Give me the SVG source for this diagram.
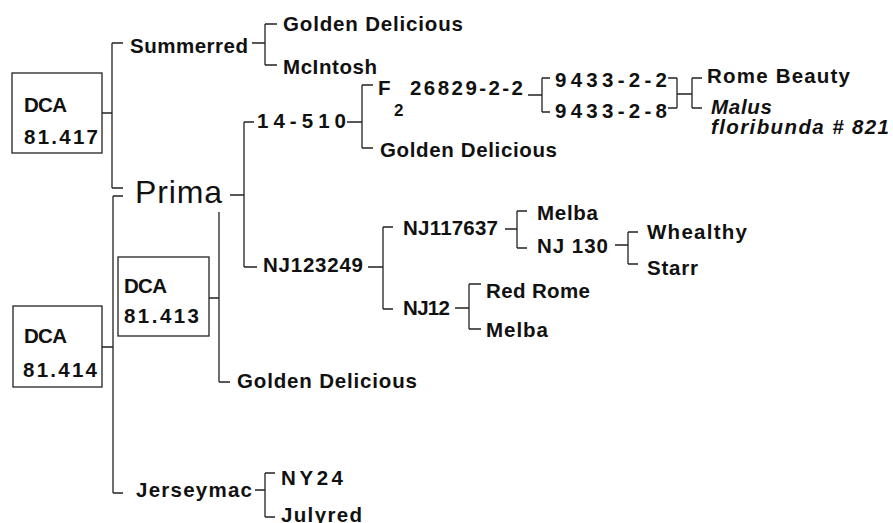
<svg xmlns="http://www.w3.org/2000/svg" width="893" height="523" viewBox="0 0 893 523">
<style>
text{font-family:"Liberation Sans",Arial,Helvetica,sans-serif;font-weight:bold;font-size:20.5px;fill:#111}
.big{font-weight:normal;font-size:32px}
.it{font-style:italic}
.sub{font-size:17px}
.box{fill:none;stroke:#222;stroke-width:1.3}
.c path{fill:none;stroke:#222;stroke-width:1.3}
</style>
<rect width="893" height="523" fill="#fff"/>
<g class="c" id="connectors">
<path d="M102 113H112M112 43V188M112 43H123M112 188H123"/>
<path d="M102 347H113M113 196V493M113 196H123M113 493H123"/>
<path d="M209 298H219M219 212V382M219 382H230"/>
<path d="M252 43H265M265 24V65M265 24H277M265 65H277"/>
<path d="M230 195H244M244 122V267M244 122H254M244 267H257"/>
<path d="M347 122H362M362 85V148M362 85H373M362 148H373"/>
<path d="M528 95H542M542 78V112M542 78H550M542 112H550"/>
<path d="M668 78H677M668 108H677M677 78V108M677 94H692M692 78V108M692 78H702M692 108H702"/>
<path d="M368 267H383M383 227V309M383 227H393M383 309H393"/>
<path d="M505 229H517M517 211V248M517 211H527M517 248H527"/>
<path d="M615 245H628M628 232V264M628 232H638M628 264H638"/>
<path d="M455 308H469M469 284V329M469 284H481M469 329H481"/>
<path d="M255 490H265M265 473V517M265 473H275M265 517H275"/>
</g>
<g id="dca417"><rect class="box" x="12" y="73" width="90" height="80"/><text x="24" y="112" textLength="43" lengthAdjust="spacing">DCA</text><text x="24" y="144" textLength="74" lengthAdjust="spacing">81.417</text></g>
<g id="dca414"><rect class="box" x="13" y="306" width="89" height="81"/><text x="24" y="343" textLength="43" lengthAdjust="spacing">DCA</text><text x="23" y="377" textLength="74" lengthAdjust="spacing">81.414</text></g>
<g id="dca413"><rect class="box" x="118" y="257" width="91" height="79"/><text x="124" y="293" textLength="43" lengthAdjust="spacing">DCA</text><text x="124" y="323" textLength="75" lengthAdjust="spacing">81.413</text></g>
<g id="summerred"><text x="130" y="53" textLength="118" lengthAdjust="spacing">Summerred</text></g>
<g id="golden1"><text x="283" y="31" textLength="180" lengthAdjust="spacing">Golden Delicious</text></g>
<g id="mcintosh"><text x="283" y="74" textLength="94" lengthAdjust="spacing">McIntosh</text></g>
<g id="prima"><text class="big" x="135" y="203" textLength="87" lengthAdjust="spacing">Prima</text></g>
<g id="n14510"><text x="257" y="128" textLength="89" lengthAdjust="spacing">14-510</text></g>
<g id="f2"><text x="378" y="95">F</text><text class="sub" x="394" y="116">2</text><text x="410" y="95" textLength="113" lengthAdjust="spacing">26829-2-2</text></g>
<g id="golden2"><text x="380" y="157" textLength="177" lengthAdjust="spacing">Golden Delicious</text></g>
<g id="n943322"><text x="555" y="87" textLength="112" lengthAdjust="spacing">9433-2-2</text></g>
<g id="n943328"><text x="555" y="118" textLength="112" lengthAdjust="spacing">9433-2-8</text></g>
<g id="romebeauty"><text x="707" y="83" textLength="143" lengthAdjust="spacing">Rome Beauty</text></g>
<g id="malus"><text class="it" x="711" y="114" textLength="61" lengthAdjust="spacing">Malus</text><text class="it" x="711" y="134" textLength="178" lengthAdjust="spacing">floribunda # 821</text></g>
<g id="nj123249"><text x="263" y="272" textLength="100" lengthAdjust="spacing">NJ123249</text></g>
<g id="nj117637"><text x="403" y="235" textLength="95" lengthAdjust="spacing">NJ117637</text></g>
<g id="melba1"><text x="537" y="220" textLength="61" lengthAdjust="spacing">Melba</text></g>
<g id="nj130"><text x="537" y="253" textLength="71" lengthAdjust="spacing">NJ 130</text></g>
<g id="whealthy"><text x="647" y="239" textLength="100" lengthAdjust="spacing">Whealthy</text></g>
<g id="starr"><text x="647" y="275" textLength="51" lengthAdjust="spacing">Starr</text></g>
<g id="nj12"><text x="403" y="315" textLength="47" lengthAdjust="spacing">NJ12</text></g>
<g id="redrome"><text x="486" y="298" textLength="104" lengthAdjust="spacing">Red Rome</text></g>
<g id="melba2"><text x="486" y="337" textLength="62" lengthAdjust="spacing">Melba</text></g>
<g id="golden3"><text x="237" y="388" textLength="180" lengthAdjust="spacing">Golden Delicious</text></g>
<g id="jerseymac"><text x="136" y="497" textLength="116" lengthAdjust="spacing">Jerseymac</text></g>
<g id="ny24"><text x="281" y="485" textLength="62" lengthAdjust="spacing">NY24</text></g>
<g id="julyred"><text x="281" y="522" textLength="81" lengthAdjust="spacing">Julyred</text></g>
</svg>
